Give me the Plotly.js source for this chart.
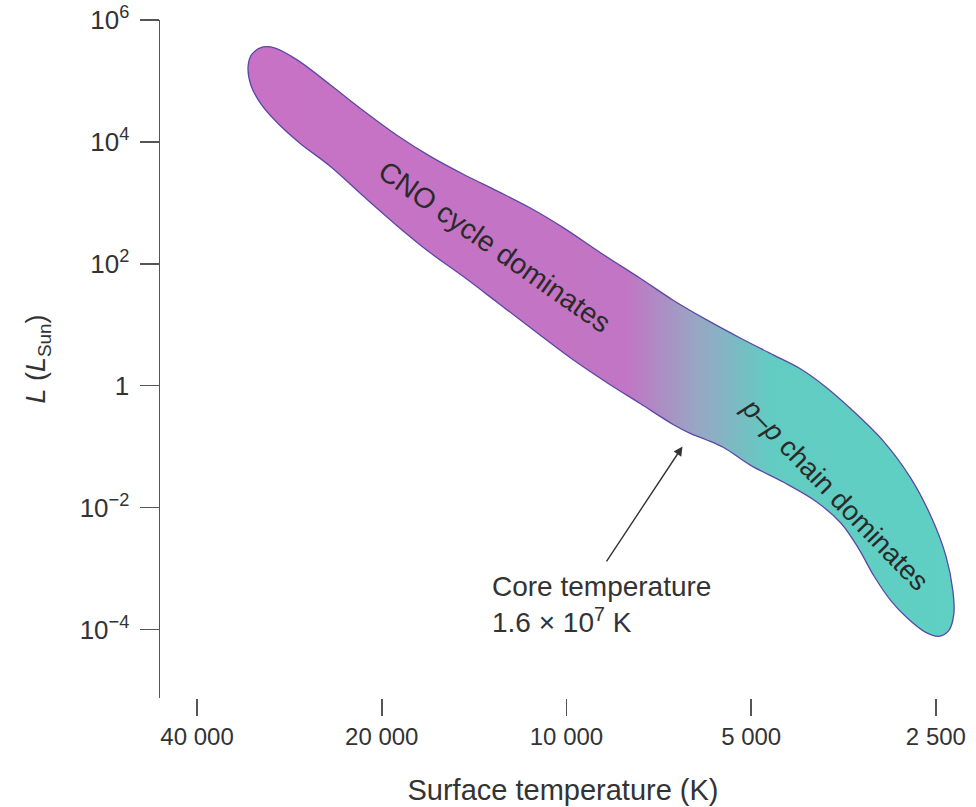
<!DOCTYPE html>
<html>
<head>
<meta charset="utf-8">
<script src="https://cdn.plot.ly/plotly-3.0.1.min.js"></script>
<style>html,body{margin:0;padding:0;background:#fff;}#chart{width:976px;height:807px;}</style>
</head>
<body>
<div id="chart"></div>
<script>
// Main-sequence band outline (surface temperature in K, luminosity in L_Sun)
// Upper edge, hot (left) to cool (right)
const upperT = [33020, 32530, 31220, 29840, 27470, 24270, 21440, 18870, 16670, 14725, 12960, 11450, 10110, 8800, 7573, 6691, 5887, 5201, 4594, 4152, 3780, 3441, 3040, 2746, 2548, 2408, 2346, 2337, 2381, 2472];
const upperL = [1.78e5, 2.79e5, 3.63e5, 3.49e5, 2.23e5, 8.70e4, 3.28e4, 1.28e4, 5824, 2961, 1564, 826, 390, 152, 57.4, 25.1, 11.8, 6.02, 3.18, 1.88, 0.956, 0.418, 0.121, 0.0302, 0.00724, 0.00161, 4.33e-4, 1.82e-4, 9.63e-5, 7.69e-5];
// Lower edge, cool (right) back to hot (left)
const lowerT = [2596, 2778, 2961, 3156, 3339, 3572, 3924, 4426, 5009, 5545, 5933, 6276, 6691, 7573, 8573, 9740, 11030, 12960, 14725, 16670, 18870, 21440, 24270, 27160, 29290, 31330, 32660];
const lowerL = [8.93e-5, 1.51e-4, 2.97e-4, 7.60e-4, 2.10e-3, 5.57e-3, 0.0127, 0.0260, 0.0492, 0.0967, 0.131, 0.164, 0.229, 0.505, 1.11, 2.64, 6.74, 23.3, 61.8, 152, 420, 1296, 4000, 9489, 1.866e4, 3.955e4, 8.38e4];

// Axis ticks
const xTickVals = [40000, 20000, 10000, 5000, 2500];
const xTickText = ['40 000', '20 000', '10 000', '5 000', '2 500'];
const yTickVals = [1e6, 1e4, 1e2, 1, 1e-2, 1e-4];
const yTickText = ['10<sup>6</sup>', '10<sup>4</sup>', '10<sup>2</sup>', '1', '10<sup>\u22122</sup>', '10<sup>\u22124</sup>'];

// Annotation anchors (T in K, L in L_Sun)
const cnoLabel = {T: 13060, L: 190.8};
const ppLabel = {T: 3641, L: 0.01654};
const arrowHead = {T: 6470, L: 0.1004};
const arrowTail = {T: 8636, L: 0.001239};
const coreNote = {T: 13305, L: 2.56e-4};

const bandT = upperT.concat(lowerT, [upperT[0]]);
const bandL = upperL.concat(lowerL, [upperL[0]]);

const FONT = 'Liberation Sans, Arial, Helvetica, sans-serif';
const TXT = '#333333';
const lg = Math.log10;

const trace = {
  type: 'scatter',
  mode: 'lines',
  x: bandT,
  y: bandL,
  fill: 'toself',
  fillcolor: '#c774c5',
  fillgradient: {
    type: 'horizontal',
    colorscale: [[0, '#c872c5'], [0.535, '#c275c4'], [0.635, '#98a6c4'], [0.74, '#62ccc2'], [1, '#5fd0c3']]
  },
  line: {color: '#5a48a6', width: 1.3, shape: 'spline', smoothing: 1},
  hoverinfo: 'skip',
  showlegend: false
};

const layout = {
  width: 976,
  height: 807,
  margin: {l: 160, r: 10, t: 20, b: 109},
  paper_bgcolor: '#ffffff',
  plot_bgcolor: '#ffffff',
  font: {family: FONT, color: TXT, size: 25},
  showlegend: false,
  xaxis: {
    type: 'log',
    range: [lg(45965), lg(2233)],
    showgrid: false,
    zeroline: false,
    showline: false,
    ticks: 'outside',
    ticklen: 17,
    tickwidth: 1.5,
    tickcolor: '#555555',
    ticklabeloverflow: 'allow',
    tickvals: xTickVals,
    ticktext: xTickText,
    tickfont: {family: FONT, size: 24, color: TXT},
    title: {text: 'Surface temperature (K)', font: {family: FONT, size: 29, color: TXT}, standoff: 30}
  },
  yaxis: {
    type: 'log',
    range: [-5.126, 6.003],
    showgrid: false,
    zeroline: false,
    showline: true,
    linecolor: '#555555',
    linewidth: 1.5,
    ticks: 'outside',
    ticklen: 19,
    tickwidth: 1.5,
    tickcolor: '#555555',
    ticklabelstandoff: 5,
    ticklabeloverflow: 'allow',
    tickvals: yTickVals,
    ticktext: yTickText,
    tickfont: {family: FONT, size: 26, color: TXT},
    title: {text: '<i>L</i> (<i>L</i><sub>Sun</sub>)', font: {family: FONT, size: 27, color: TXT}, standoff: 26}
  },
  shapes: [{
    type: 'line', xref: 'x', yref: 'paper',
    x0: lg(45965), x1: lg(xTickVals[xTickVals.length - 1]), y0: 0, y1: 0,
    line: {color: '#555555', width: 1.5}
  }],
  annotations: [
    {
      x: lg(cnoLabel.T), y: lg(cnoLabel.L), xref: 'x', yref: 'y',
      text: 'CNO cycle dominates', showarrow: false, textangle: 35,
      font: {family: FONT, size: 28.5, color: '#2a2a2a'}
    },
    {
      x: lg(ppLabel.T), y: lg(ppLabel.L), xref: 'x', yref: 'y',
      text: '<i>p</i>\u2013<i>p</i> chain dominates', showarrow: false, textangle: 46,
      font: {family: FONT, size: 27.5, color: '#2a2a2a'}
    },
    {
      x: lg(arrowHead.T), y: lg(arrowHead.L), xref: 'x', yref: 'y',
      ax: lg(arrowTail.T), ay: lg(arrowTail.L), axref: 'x', ayref: 'y',
      text: '', showarrow: true, arrowhead: 2, arrowsize: 1.3, arrowwidth: 1.4, arrowcolor: '#333333'
    },
    {
      x: lg(coreNote.T), y: lg(coreNote.L), xref: 'x', yref: 'y',
      xanchor: 'left', yanchor: 'middle', align: 'left',
      text: 'Core temperature<br>1.6 \u00d7 10<sup>7</sup> K', showarrow: false,
      font: {family: FONT, size: 28, color: TXT}
    }
  ]
};

Plotly.newPlot('chart', [trace], layout, {staticPlot: true});
</script>
</body>
</html>
